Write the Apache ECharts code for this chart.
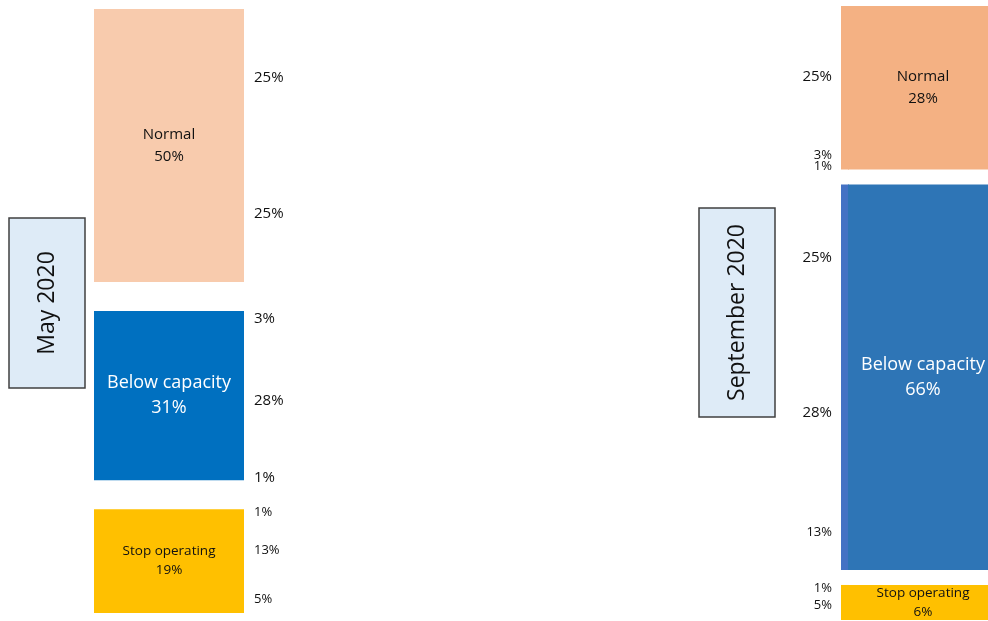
<!DOCTYPE html>
<html>
<head>
<meta charset="utf-8">
<script src="https://cdn.jsdelivr.net/npm/echarts@6/dist/echarts.min.js"></script>
<style>
  html, body { margin: 0; padding: 0; background: #ffffff; }
  #chart { width: 988px; height: 621px; }
</style>
</head>
<body>
<div id="chart"></div>
<script>
// Operating status of firms in two survey rounds (% of firms)
const periods = ['May 2020', 'September 2020'];
const states = ['Normal', 'Below capacity', 'Stop operating'];
const mayShares = [50, 31, 19];
const septShares = [28, 66, 6];
// Transitions: status in May (array) -> status in September (Normal, Below capacity, Stop operating)
const fromNormal = [25, 25, 0];
const fromBelow = [3, 28, 1];
const fromStop = [1, 13, 5];
const transitions = [fromNormal, fromBelow, fromStop];

// ---- styling ----
const FONT = '"Open Sans", "Noto Sans", sans-serif';
const mayColors = ['#F8CBAD', '#0070C0', '#FFC000'];
const septColors = ['#F4B183', '#2E75B6', '#FFC000'];
const septEdgeColors = ['#F4B183', '#4472C4', '#FFC000'];
const nodeTextColors = ['#111111', '#ffffff', '#111111'];
const nodeFontSizes = [15, 18, 13.5];
const nodeLineHeights = [22, 25, 19];
// node columns; the September column runs past the right edge of the canvas
const COLUMN = {
  may: { left: 94, top: 9, nodeWidth: 150, height: 546, gap: 29 },
  sept: { left: 848, top: 6, nodeWidth: 150, height: 584, gap: 15 }
};
const EDGE_STRIP = 7;

// node items: [start, value, index]
function nodeItems(shares) {
  let acc = 0;
  return shares.map((v, i) => { const it = [acc, v, i]; acc += v; return it; });
}
const mayNodes = nodeItems(mayShares);
const septNodes = nodeItems(septShares);

// flow label items: [nodeIndex, nodeStart, nodeValue, flowOffset, flowValue, flowTotal, otherIndex]
const mayFlowItems = [];
transitions.forEach((row, i) => {
  const total = row.reduce((a, b) => a + b, 0);
  let acc = 0;
  row.forEach((v, j) => {
    if (v > 0) mayFlowItems.push([i, mayNodes[i][0], mayNodes[i][1], acc, v, total, j]);
    acc += v;
  });
});
const septFlowItems = [];
states.forEach((_, j) => {
  const col = transitions.map(row => row[j]);
  const total = col.reduce((a, b) => a + b, 0);
  let acc = 0;
  col.forEach((v, i) => {
    if (v > 0) septFlowItems.push([j, septNodes[j][0], septNodes[j][1], acc, v, total, i]);
    acc += v;
  });
});

function nodeRenderer(colors, cfg, withStrip) {
  return function (params, api) {
    const idx = api.value(2);
    const p0 = api.coord([0, api.value(0)]);
    const p1 = api.coord([0, api.value(0) + api.value(1)]);
    const y = p0[1] + idx * cfg.gap;
    const h = p1[1] - p0[1];
    const w = cfg.nodeWidth;
    const children = [];
    if (withStrip) {
      children.push({
        type: 'rect',
        shape: { x: p0[0] - EDGE_STRIP, y: y, width: EDGE_STRIP + 1, height: h },
        style: { fill: septEdgeColors[idx] }
      });
    }
    children.push({
      type: 'rect',
      shape: { x: p0[0], y: y, width: w, height: h },
      style: { fill: colors[idx] }
    });
    children.push({
      type: 'text',
      style: {
        text: states[idx] + '\n' + api.value(1) + '%',
        x: p0[0] + w / 2,
        y: y + h / 2,
        align: 'center',
        verticalAlign: 'middle',
        fontFamily: FONT,
        fontSize: nodeFontSizes[idx],
        lineHeight: nodeLineHeights[idx],
        fill: nodeTextColors[idx]
      }
    });
    return { type: 'group', children: children };
  };
}

function flowRenderer(cfg, side) {
  return function (params, api) {
    const idx = api.value(0);
    const base = api.coord([0, api.value(1)]);
    const top = base[1] + idx * cfg.gap;
    const h = api.size([0, api.value(2)])[1];
    const v = api.value(4);
    const y = top + (api.value(3) + v / 2) / api.value(5) * h;
    let x, align, small;
    if (side === 'left') {
      x = base[0] + cfg.nodeWidth + 10;
      align = 'left';
      small = idx === 2;
    } else {
      x = base[0] - EDGE_STRIP - 9;
      align = 'right';
      small = v < 20;
    }
    return {
      type: 'text',
      style: {
        text: v + '%',
        x: x,
        y: y,
        align: align,
        verticalAlign: 'middle',
        fontFamily: FONT,
        fontSize: small ? 13 : 15,
        fill: '#111111'
      }
    };
  };
}

function periodBox(cx, cy, w, h, label) {
  return [
    {
      type: 'rect',
      shape: { x: cx - w / 2, y: cy - h / 2, width: w, height: h },
      style: { fill: '#DEEBF7', stroke: '#404040', lineWidth: 1.5 }
    },
    {
      type: 'text',
      x: cx,
      y: cy,
      rotation: Math.PI / 2,
      style: {
        text: label,
        align: 'center',
        verticalAlign: 'middle',
        textAlign: 'center',
        textVerticalAlign: 'middle',
        font: '23px ' + FONT,
        fill: '#111111'
      }
    }
  ];
}

const chart = echarts.init(document.getElementById('chart'), null, { renderer: 'canvas' });
chart.setOption({
  animation: false,
  backgroundColor: '#ffffff',
  grid: [
    { left: COLUMN.may.left, top: COLUMN.may.top, width: COLUMN.may.nodeWidth, height: COLUMN.may.height },
    { left: COLUMN.sept.left, top: COLUMN.sept.top, width: 100, height: COLUMN.sept.height }
  ],
  xAxis: [
    { gridIndex: 0, type: 'value', min: 0, max: 1, show: false },
    { gridIndex: 1, type: 'value', min: 0, max: 1, show: false }
  ],
  yAxis: [
    { gridIndex: 0, type: 'value', min: 0, max: 100, inverse: true, show: false },
    { gridIndex: 1, type: 'value', min: 0, max: 100, inverse: true, show: false }
  ],
  graphic: [].concat(
    periodBox(47, 303, 76, 170, periods[0]),
    periodBox(737, 312.5, 76, 209, periods[1])
  ),
  series: [
    { type: 'custom', name: periods[0], xAxisIndex: 0, yAxisIndex: 0, clip: false,
      data: mayNodes, renderItem: nodeRenderer(mayColors, COLUMN.may, false) },
    { type: 'custom', name: periods[1], xAxisIndex: 1, yAxisIndex: 1, clip: false,
      data: septNodes, renderItem: nodeRenderer(septColors, COLUMN.sept, true) },
    { type: 'custom', name: 'May outflows', xAxisIndex: 0, yAxisIndex: 0, clip: false,
      data: mayFlowItems, renderItem: flowRenderer(COLUMN.may, 'left') },
    { type: 'custom', name: 'September inflows', xAxisIndex: 1, yAxisIndex: 1, clip: false,
      data: septFlowItems, renderItem: flowRenderer(COLUMN.sept, 'right') }
  ]
});
</script>
</body>
</html>
